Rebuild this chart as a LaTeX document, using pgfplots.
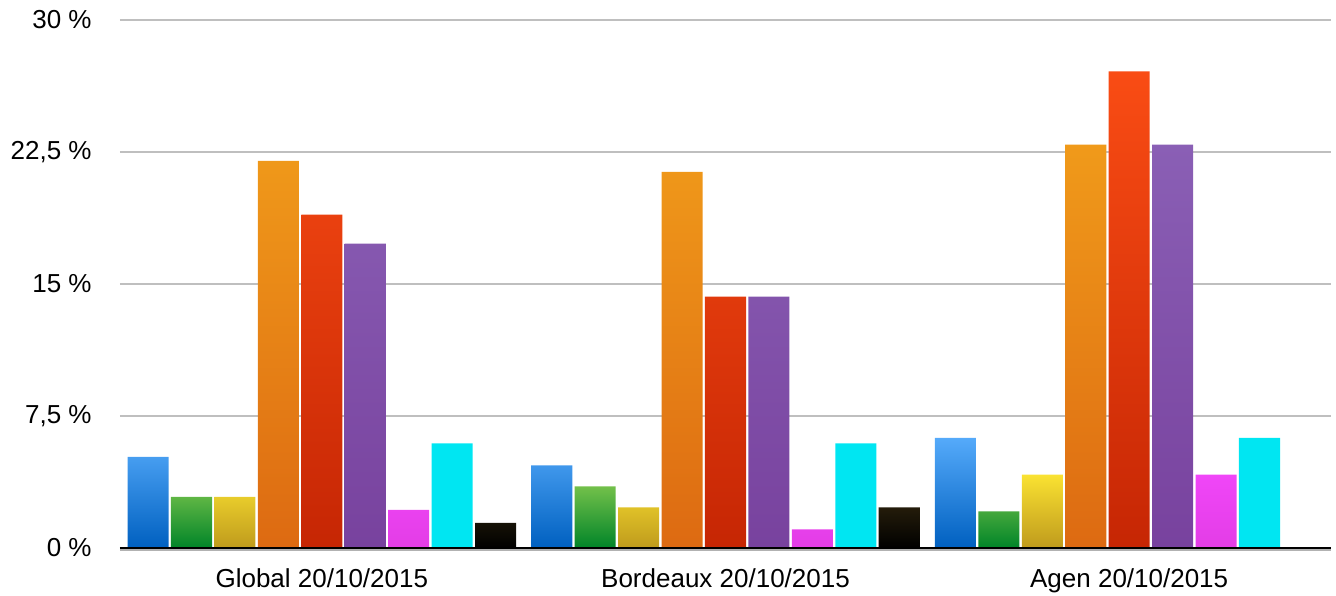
\documentclass[border=0pt]{standalone}
\usepackage{fontspec}
\setmainfont{Liberation Sans}
\usepackage{pgfplots}
\pgfplotsset{compat=1.18}

\definecolor{bluetop}{HTML}{55AAFA}
\definecolor{bluebot}{HTML}{0060C0}
\definecolor{greentop}{HTML}{72C04A}
\definecolor{greenbot}{HTML}{008428}
\definecolor{yeltop}{HTML}{FAE232}
\definecolor{yelbot}{HTML}{BF9A1C}
\definecolor{orangetop}{HTML}{F09A1A}
\definecolor{orangebot}{HTML}{DD6A12}
\definecolor{redtop}{HTML}{F94C14}
\definecolor{redbot}{HTML}{C62604}
\definecolor{purpletop}{HTML}{8A5FB5}
\definecolor{purplebot}{HTML}{78429E}
\definecolor{magtop}{HTML}{F046F8}
\definecolor{magbot}{HTML}{E33DE6}
\definecolor{cyanbar}{HTML}{00E6F2}
\definecolor{blacktop}{HTML}{241C0A}
\definecolor{blackbot}{HTML}{000000}

\pgfplotsset{
  bar/.style 2 args={ybar, draw=none, bar width=0.1017, bar shift=#1*0.1076, #2},
}

\begin{document}
\begin{tikzpicture}
\begin{axis}[
    scale only axis,
    width=605.5pt, height=264pt,
    xmin=-0.5, xmax=2.5,
    ymin=0, ymax=30,
    xtick={0,1,2},
    xticklabels={Global 20/10/2015, Bordeaux 20/10/2015, Agen 20/10/2015},
    ytick={0,7.5,15,22.5,30},
    yticklabels={0 \%, {7,5 \%}, 15 \%, {22,5 \%}, 30 \%},
    axis line style={draw=none},
    major tick length=0pt,
    tick style={draw=none},
    ymajorgrids,
    major grid style={draw=black!25, line width=0.6pt},
    tick label style={font=\fontsize{13}{15.6}\selectfont},
    yticklabel style={anchor=east, inner sep=0pt, xshift=-14pt},
    xticklabel style={anchor=north, inner sep=0pt, yshift=-10pt},
    clip=false,
]
\addplot[bar={-4}{top color=bluetop, bottom color=bluebot}] coordinates {(0,5.17) (1,4.69) (2,6.25)};
\addplot[bar={-3}{top color=greentop, bottom color=greenbot}] coordinates {(0,2.90) (1,3.50) (2,2.08)};
\addplot[bar={-2}{top color=yeltop, bottom color=yelbot}] coordinates {(0,2.90) (1,2.31) (2,4.17)};
\addplot[bar={-1}{top color=orangetop, bottom color=orangebot}] coordinates {(0,22.00) (1,21.37) (2,22.92)};
\addplot[bar={0}{top color=redtop, bottom color=redbot}] coordinates {(0,18.94) (1,14.28) (2,27.08)};
\addplot[bar={1}{top color=purpletop, bottom color=purplebot}] coordinates {(0,17.29) (1,14.28) (2,22.92)};
\addplot[bar={2}{top color=magtop, bottom color=magbot}] coordinates {(0,2.16) (1,1.06) (2,4.17)};
\addplot[bar={3}{fill=cyanbar}] coordinates {(0,5.94) (1,5.94) (2,6.25)};
\addplot[bar={4}{top color=blacktop, bottom color=blackbot}] coordinates {(0,1.42) (1,2.31)};
\draw[black!30, line width=1pt] ([yshift=-1.2pt]rel axis cs:0,0) -- ([yshift=-1.2pt]rel axis cs:1,0);
\draw[black, line width=1.3pt] (rel axis cs:0,0) -- (rel axis cs:1,0);
\end{axis}
\pgfresetboundingbox
\path ([xshift=-60pt,yshift=-24pt]current axis.south west) rectangle ([xshift=2.5pt,yshift=10pt]current axis.north east);
\end{tikzpicture}
\end{document}
